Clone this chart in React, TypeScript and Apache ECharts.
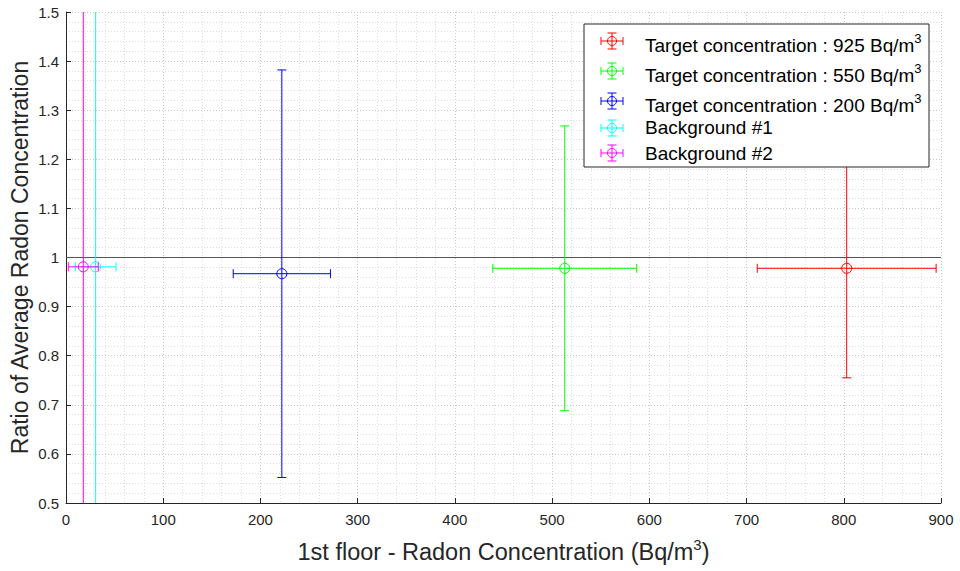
import React, { useEffect, useRef } from "react";
import * as echarts from "echarts";

// ---- data ----
const seriesNames = [
  "Target concentration : 925 Bq/m",
  "Target concentration : 550 Bq/m",
  "Target concentration : 200 Bq/m",
  "Background #1",
  "Background #2",
];
const seriesHasSup = [true, true, true, false, false];
const seriesColors = ["#ff0000", "#00ff00", "#0000ff", "#00ffff", "#ff00ff"];
const xValues = [803, 513, 222, 30.5, 17.8];
const yValues = [0.978, 0.978, 0.967, 0.981, 0.981];
const xErrors = [92, 74, 50, 21, 15.4];
const yErrors = [0.223, 0.29, 0.415, 2, 2];
const refLine = [
  [0, 1],
  [900, 1],
];
const xTicks = { min: 0, max: 900, interval: 100 };
const yTicks = { min: 0.5, max: 1.5, interval: 0.1 };
const xLabel = "1st floor - Radon Concentration (Bq/m{sup|3})";
const yLabel = "Ratio of Average Radon Concentration";

const FONT = "'Liberation Sans', Arial, Helvetica, sans-serif";
const AXIS_COLOR = "#262626";

export default function App() {
  const ref = useRef<HTMLDivElement>(null);

  useEffect(() => {
    if (!ref.current) return;
    const chart = echarts.init(ref.current, null, { renderer: "svg" });

    const errSeries = seriesNames.map((name, i) => ({
      type: "custom",
      name,
      clip: true,
      z: 3,
      data: [[xValues[i], yValues[i], xErrors[i], yErrors[i]]],
      renderItem: (params: any, api: any) => {
        const x = api.value(0);
        const y = api.value(1);
        const xe = api.value(2);
        const ye = api.value(3);
        const c = api.coord([x, y]);
        const l = api.coord([x - xe, y]);
        const r = api.coord([x + xe, y]);
        const t = api.coord([x, y + ye]);
        const b = api.coord([x, y - ye]);
        const cap = 4.5;
        const style = { stroke: seriesColors[i], lineWidth: 1, fill: "none" };
        return {
          type: "group",
          children: [
            { type: "line", shape: { x1: l[0], y1: l[1], x2: r[0], y2: r[1] }, style },
            { type: "line", shape: { x1: l[0], y1: l[1] - cap, x2: l[0], y2: l[1] + cap }, style },
            { type: "line", shape: { x1: r[0], y1: r[1] - cap, x2: r[0], y2: r[1] + cap }, style },
            { type: "line", shape: { x1: t[0], y1: t[1], x2: b[0], y2: b[1] }, style },
            { type: "line", shape: { x1: t[0] - cap, y1: t[1], x2: t[0] + cap, y2: t[1] }, style },
            { type: "line", shape: { x1: b[0] - cap, y1: b[1], x2: b[0] + cap, y2: b[1] }, style },
            { type: "circle", shape: { cx: c[0], cy: c[1], r: 5 }, style },
          ],
        };
      },
    }));

    // legend drawn as graphic
    const legendLeft = 584;
    const legendTop = 24;
    const rowCenters = [17, 47, 77, 104, 129];
    const textCenters = [21, 51, 81, 103.5, 129.5];
    const LZ = 100;
    const legendChildren: any[] = [
      {
        type: "rect",
        z: LZ,
        shape: { x: 0, y: 0, width: 345, height: 143 },
        style: { fill: "#ffffff", stroke: AXIS_COLOR, lineWidth: 1 },
      },
    ];
    seriesNames.forEach((name, i) => {
      const cx = 28;
      const cy = rowCenters[i];
      const st = { stroke: seriesColors[i], lineWidth: 1, fill: "none" };
      legendChildren.push(
        { type: "line", z: LZ + 1, shape: { x1: cx - 11, y1: cy, x2: cx + 11, y2: cy }, style: st },
        { type: "line", z: LZ + 1, shape: { x1: cx - 11, y1: cy - 4, x2: cx - 11, y2: cy + 4 }, style: st },
        { type: "line", z: LZ + 1, shape: { x1: cx + 11, y1: cy - 4, x2: cx + 11, y2: cy + 4 }, style: st },
        { type: "line", z: LZ + 1, shape: { x1: cx, y1: cy - 8, x2: cx, y2: cy + 8 }, style: st },
        { type: "line", z: LZ + 1, shape: { x1: cx - 4.5, y1: cy - 8, x2: cx + 4.5, y2: cy - 8 }, style: st },
        { type: "line", z: LZ + 1, shape: { x1: cx - 4.5, y1: cy + 8, x2: cx + 4.5, y2: cy + 8 }, style: st },
        { type: "circle", z: LZ + 1, shape: { cx, cy, r: 4.5 }, style: st },
        {
          type: "text",
          z: LZ + 1,
          x: 61,
          y: textCenters[i],
          style: {
            text: seriesHasSup[i] ? name + "{sup|3}" : name,
            fontFamily: FONT,
            fontSize: 19,
            fill: "#000000",
            verticalAlign: "middle",
            align: "left",
            lineHeight: 26,
            rich: {
              sup: { fontSize: 13, fontFamily: FONT, fill: "#000000", verticalAlign: "top", lineHeight: 13 },
            },
          },
        }
      );
    });

    const option: any = {
      animation: false,
      backgroundColor: "#ffffff",
      textStyle: { fontFamily: FONT },
      grid: { left: 66, right: 19, top: 12, bottom: 68, containLabel: false, outerBoundsMode: "none" },
      xAxis: {
        type: "value",
        min: xTicks.min,
        max: xTicks.max,
        interval: xTicks.interval,
        name: xLabel,
        nameLocation: "middle",
        nameGap: 34,
        nameMoveOverlap: false,
        nameTextStyle: {
          fontSize: 23.5,
          color: AXIS_COLOR,
          fontFamily: FONT,
          lineHeight: 30,
          rich: {
            sup: { fontSize: 15, color: AXIS_COLOR, fontFamily: FONT, verticalAlign: "top", lineHeight: 15 },
          },
        },
        axisLine: { show: true, lineStyle: { color: AXIS_COLOR, width: 1 } },
        axisTick: { show: true, inside: true, length: 5, lineStyle: { color: AXIS_COLOR } },
        axisLabel: { fontSize: 15, color: AXIS_COLOR, margin: 9, fontFamily: FONT },
        splitLine: { show: true, lineStyle: { color: "#c8c8c8", type: [1, 2], width: 1 } },
        minorTick: { show: false, splitNumber: 5 },
        minorSplitLine: { show: true, lineStyle: { color: "#dedede", type: [1, 2], width: 1 } },
      },
      yAxis: {
        type: "value",
        min: yTicks.min,
        max: yTicks.max,
        interval: yTicks.interval,
        name: yLabel,
        nameLocation: "middle",
        nameGap: 35,
        nameMoveOverlap: false,
        nameTextStyle: { fontSize: 23, color: AXIS_COLOR, fontFamily: FONT },
        axisLine: { show: true, lineStyle: { color: AXIS_COLOR, width: 1 } },
        axisTick: { show: true, inside: true, length: 5, lineStyle: { color: AXIS_COLOR } },
        axisLabel: { fontSize: 15, color: AXIS_COLOR, margin: 7, fontFamily: FONT },
        splitLine: { show: true, lineStyle: { color: "#c8c8c8", type: [1, 2], width: 1 } },
        minorTick: { show: false, splitNumber: 5 },
        minorSplitLine: { show: true, lineStyle: { color: "#dedede", type: [1, 2], width: 1 } },
      },
      series: [
        {
          type: "line",
          name: "ref",
          data: refLine,
          symbol: "none",
          silent: true,
          z: 2,
          lineStyle: { color: "#555555", width: 1 },
        },
        ...errSeries,
      ],
      graphic: [
        {
          type: "group",
          x: legendLeft,
          y: legendTop,
          z: LZ,
          children: legendChildren,
        },
      ],
    };

    chart.setOption(option);
    return () => chart.dispose();
  }, []);

  return (
    <div
      ref={ref}
      style={{ position: "fixed", left: 0, top: 0, width: 960, height: 571, background: "#fff" }}
    />
  );
}
